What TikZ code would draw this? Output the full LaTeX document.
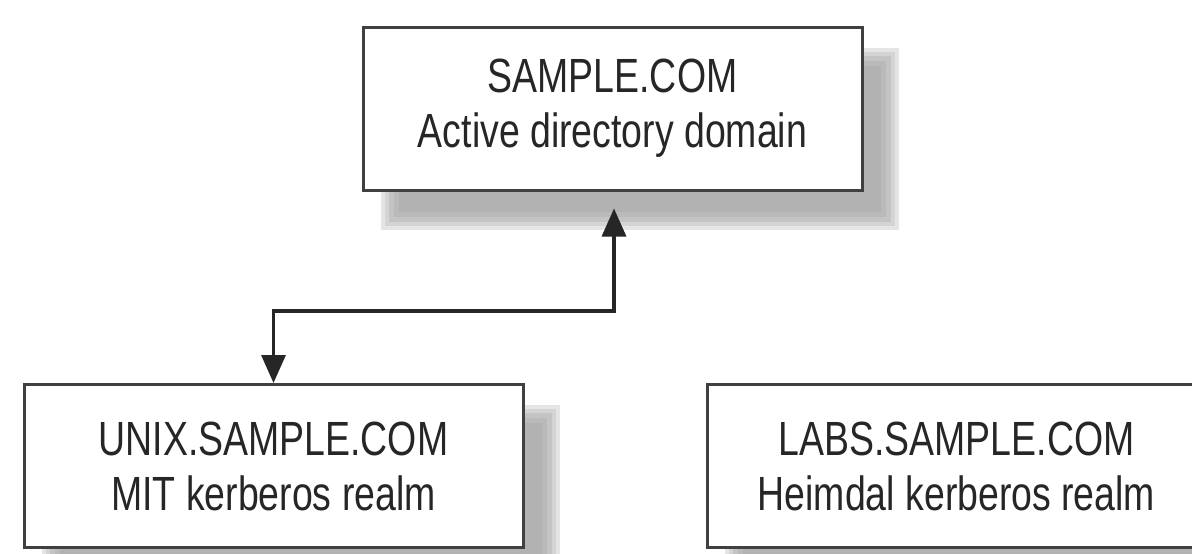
\documentclass[tikz,border=0pt]{standalone}
\usepackage{fontspec}
\setmainfont{Liberation Sans}[FakeStretch=0.78]
\usetikzlibrary{arrows.meta,calc}
\tikzset{
  realm/.style={draw=black!75, line width=1.5pt, fill=white, minimum width=249.5pt, minimum height=81.5pt,
    align=center, inner sep=0pt, text=black!85, font=\fontsize{24}{27.5}\selectfont},
  conn/.style={draw=black!85, line width=1.6pt, {Triangle[length=14pt,width=12pt]}-{Triangle[length=14pt,width=12pt]}}
}
\newcommand\realmshadow[1]{%
  \foreach \e/\g in {8/10,4/17,0/23,-5/27,-10/30}{%
    \fill[black!\g] ($(#1.north west)+(27-\e,30-\e)$) rectangle ($(#1.south east)+(27+\e,30+\e)$);
  }%
}
\begin{document}
\begin{tikzpicture}[x=0.5pt,y=-0.5pt]
\useasboundingbox (0,0) rectangle (1192,553);
\fill[white] (0,0) rectangle (1192,553);
% invisible placement nodes first for shadows
\path (612.5,108.5) node[realm,draw=none,fill=none,text opacity=0] (top0) {SAMPLE.COM\\Active directory domain};
\path (273.5,466) node[realm,draw=none,fill=none,text opacity=0] (bl0) {UNIX.SAMPLE.COM\\MIT kerberos realm};
\path (956.5,466) node[realm,draw=none,fill=none,text opacity=0] (br0) {LABS.SAMPLE.COM\\Heimdal kerberos realm};
\realmshadow{top0}
\realmshadow{bl0}
\realmshadow{br0}
\node[realm] (top) at (612.5,108.5) {SAMPLE.COM\\Active directory domain};
\node[realm] (bl) at (273.5,466) {UNIX.SAMPLE.COM\\MIT kerberos realm};
\node[realm] (br) at (956.5,466) {LABS.SAMPLE.COM\\Heimdal kerberos realm};
\coordinate (tipT) at ($(top.south)+(1.5,17)$);
\draw[conn] (bl.north) -- ++(0,-72) -| (tipT);
\end{tikzpicture}
\end{document}
